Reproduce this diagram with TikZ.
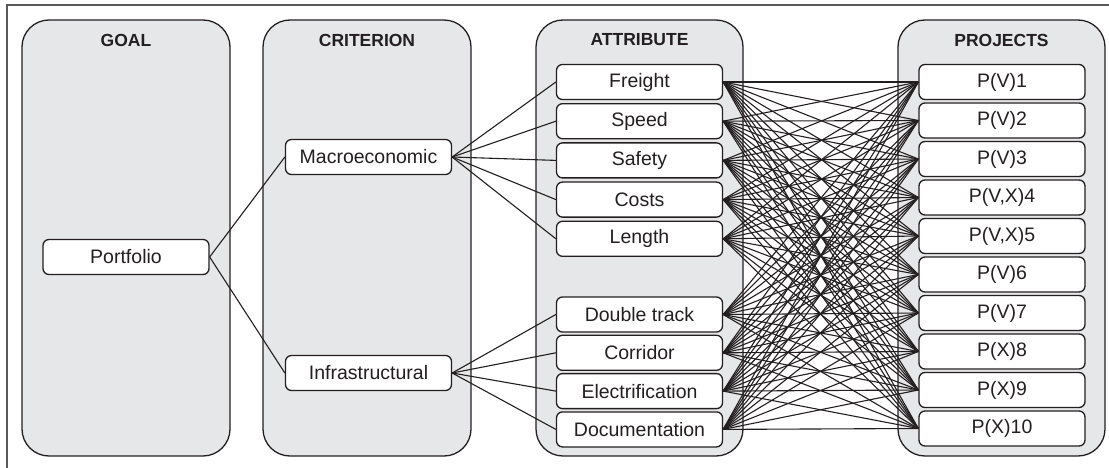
\documentclass[tikz,border=0pt]{standalone}
\usepackage{fontspec}
\usepackage{tikz}
\setmainfont{Liberation Sans}
\definecolor{panelgray}{HTML}{E6E7E8}
\definecolor{ink}{HTML}{231F20}

\begin{document}
\begin{tikzpicture}[x=1pt, y=-1pt,
    panel/.style={draw=ink, line width=1.3pt, fill=panelgray, rounded corners=27pt},
    head/.style={font=\fontsize{17.5}{19}\selectfont\bfseries, text=ink},
    item/.style={draw=ink, line width=1.3pt, fill=white, rounded corners=6pt,
        minimum width=166pt, minimum height=35pt, inner sep=0pt,
        font=\fontsize{19.5}{22}\selectfont, text=ink},
    link/.style={draw=ink, line width=1.1pt}]

    \useasboundingbox (0,0) rectangle (1109,468);

    % Frame
    \draw[line width=1.5pt, black!65] (7,468) -- (7,5) -- (1109,5);

    % Columns
    \draw[panel] (22,20) rectangle (230,456);
    \draw[panel] (263,20) rectangle (471,456);
    \draw[panel] (536,20) rectangle (743,456);
    \draw[panel] (898,20) rectangle (1105,456);

    \node[head] (hgoal) at (126,40) {GOAL};
    \node[head] (hcrit) at (367,40) {CRITERION};
    \node[head] (hattr) at (639.5,40) {ATTRIBUTE};
    \node[head] (hproj) at (1001.5,40) {PROJECTS};

    % Goal and criteria
    \node[item] (port) at (126,257) {Portfolio};
    \node[item] (macro) at (368.5,157) {Macroeconomic};
    \node[item] (infra) at (368.5,373) {Infrastructural};

    % Attributes
    \foreach \lab/\ypos [count=\i] in {Freight/82, Speed/121.2, Safety/160.4,
        Costs/199.6, Length/238.8, Double track/314.5, Corridor/352.8,
        Electrification/391.1, Documentation/429.4}
        \node[item] (a\i) at (639.5,\ypos) {\lab};

    % Projects
    \foreach \lab [count=\i] in {P(V)1, P(V)2, P(V)3, {P(V,X)4}, {P(V,X)5},
        P(V)6, P(V)7, P(X)8, P(X)9, P(X)10}
        \node[item] (p\i) at (1002,{82+38.5*(\i-1)}) {\lab};

    % Links
    \draw[link] (port.east) -- (macro.west);
    \draw[link] (port.east) -- (infra.west);
    \foreach \i in {1,...,5}
        \draw[link] (macro.east) -- (a\i.west);
    \foreach \i in {6,...,9}
        \draw[link] (infra.east) -- (a\i.west);
    \foreach \i in {1,...,9}
        \foreach \j in {1,...,10}
            \draw[link] (a\i.east) -- (p\j.west);
\end{tikzpicture}
\end{document}
